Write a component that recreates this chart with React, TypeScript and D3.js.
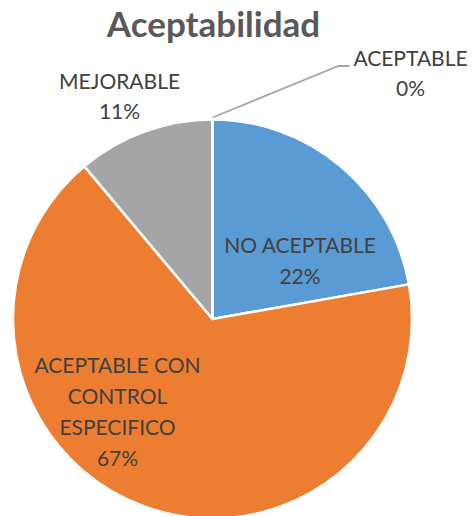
import React from "react";
import * as d3 from "d3";

const categories = ["NO ACEPTABLE", "ACEPTABLE CON CONTROL ESPECIFICO", "MEJORABLE", "ACEPTABLE"];
const values = [2, 6, 1, 0];
const colors = ["#5B9BD5", "#ED7D31", "#A5A5A5", "#FFC000"];
const labelLines = [["NO ACEPTABLE"], ["ACEPTABLE CON", "CONTROL", "ESPECIFICO"], ["MEJORABLE"], ["ACEPTABLE"]];
const title = "Aceptabilidad";

const W = 472;
const H = 516;
const cx = 212.5;
const cy = 319;
const R = 199.5;
// label anchor: x center, first baseline y
const labelPos: [number, number][] = [
  [300, 253],
  [117.5, 372.5],
  [119.5, 89],
  [410.5, 66],
];
const lineH = 31;
const FONT = "Lato, 'Open Sans', sans-serif";

export default function App() {
  const total = d3.sum(values);
  const pie = d3.pie<number>().sort(null).value((d) => d).startAngle(0).endAngle(2 * Math.PI);
  const arcs = pie(values);
  const arc = d3.arc<d3.PieArcDatum<number>>().innerRadius(0).outerRadius(R);
  const fmt = (v: number) => `${Math.round((v / total) * 100)}%`;

  // leader for the zero slice
  const zero = arcs[3];
  const a = zero.startAngle;
  const sx = cx + Math.sin(a) * R;
  const sy = cy - Math.cos(a) * (R + 1);
  const [lx, ly] = labelPos[3];

  return (
    <svg width={W} height={H} style={{ position: "absolute", left: 0, top: 0, background: "#fff" }}>
      <rect width={W} height={H} fill="#fff" />
      <text x={213.5} y={37} textAnchor="middle" fontFamily={FONT} fontWeight={700} fontSize={35} fill="#595959">
        {title}
      </text>
      <g transform={`translate(${cx},${cy})`}>
        {arcs.map((d, i) => (
          <path key={categories[i]} d={arc(d) || ""} fill={colors[i]} stroke="#fff" strokeWidth={2.5} strokeLinejoin="round" />
        ))}
      </g>
      <polyline
        points={`${sx},${sy - 1} ${lx - 72},${ly} ${lx - 61},${ly}`}
        fill="none"
        stroke="#A6A6A6"
        strokeWidth={1.8}
      />
      {arcs.map((d, i) => {
        const [x, y] = labelPos[i];
        const lines = [...labelLines[i], fmt(values[i])];
        return (
          <text key={"l" + i} fontFamily={FONT} fontSize={21} fill="#404040" textAnchor="middle">
            {lines.map((t, j) => (
              <tspan key={j} x={x} y={y + j * (i === 2 || i === 3 ? 30 : lineH)}>
                {t}
              </tspan>
            ))}
          </text>
        );
      })}
    </svg>
  );
}
